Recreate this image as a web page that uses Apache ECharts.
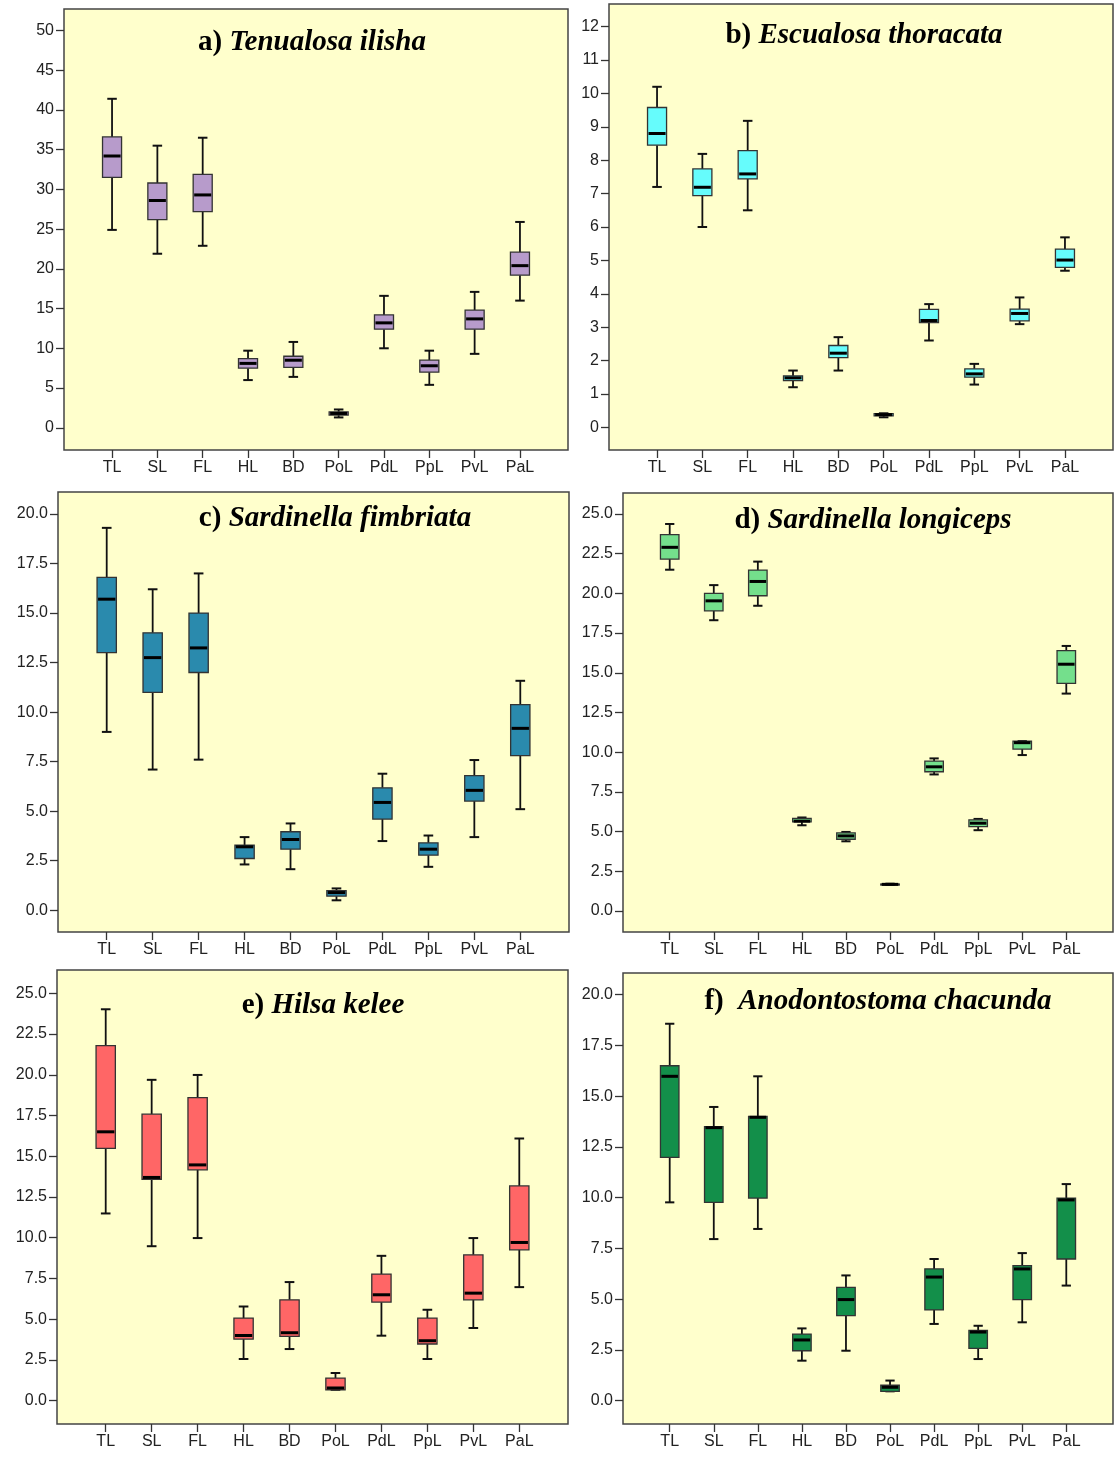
<!DOCTYPE html>
<html>
<head>
<meta charset="utf-8">
<script src="https://cdn.jsdelivr.net/npm/echarts@6/dist/echarts.min.js"></script>
<style>
  html, body { margin: 0; padding: 0; background: #fff; }
  #main { width: 1117px; height: 1457px; }
</style>
</head>
<body>
<div id="main"></div>
<script>
// categories on the x axis of every panel
const traits = ['TL', 'SL', 'FL', 'HL', 'BD', 'PoL', 'PdL', 'PpL', 'PvL', 'PaL'];

// box values per trait: [min, Q1, median, Q3, max]
const ilisha = [
    [24.9, 31.5, 34.2, 36.6, 41.4],
    [21.9, 26.2, 28.6, 30.8, 35.5],
    [22.9, 27.2, 29.3, 31.9, 36.5],
    [6.0, 7.5, 8.1, 8.7, 9.7],
    [6.4, 7.6, 8.5, 9.0, 10.8],
    [1.3, 1.6, 1.8, 2.0, 2.3],
    [10.0, 12.4, 13.2, 14.2, 16.6],
    [5.4, 7.0, 7.8, 8.5, 9.7],
    [9.3, 12.4, 13.7, 14.8, 17.1],
    [16.0, 19.2, 20.4, 22.1, 25.9]
];
const thoracata = [
    [7.2, 8.45, 8.8, 9.58, 10.2],
    [6.0, 6.94, 7.19, 7.74, 8.19],
    [6.5, 7.44, 7.59, 8.29, 9.18],
    [1.2, 1.40, 1.48, 1.54, 1.7],
    [1.7, 2.09, 2.22, 2.45, 2.7],
    [0.3, 0.34, 0.38, 0.41, 0.42],
    [2.6, 3.14, 3.2, 3.53, 3.69],
    [1.28, 1.5, 1.6, 1.75, 1.9],
    [3.09, 3.19, 3.41, 3.54, 3.89],
    [4.69, 4.79, 5.01, 5.34, 5.69]
];
const fimbriata = [
    [9.0, 13.0, 15.7, 16.8, 19.3],
    [7.1, 11.0, 12.75, 14.0, 16.2],
    [7.6, 12.0, 13.24, 15.0, 17.0],
    [2.31, 2.61, 3.2, 3.29, 3.69],
    [2.07, 3.08, 3.57, 3.96, 4.38],
    [0.5, 0.71, 0.89, 0.99, 1.1],
    [3.49, 4.6, 5.44, 6.18, 6.89],
    [2.19, 2.78, 3.08, 3.4, 3.77],
    [3.69, 5.51, 6.05, 6.79, 7.58],
    [5.1, 7.8, 9.18, 10.38, 11.58]
];
const longiceps = [
    [21.49, 22.16, 22.9, 23.7, 24.37],
    [18.31, 18.9, 19.53, 20.0, 20.52],
    [19.22, 19.85, 20.75, 21.47, 22.0],
    [5.4, 5.61, 5.66, 5.84, 5.89],
    [4.39, 4.52, 4.73, 4.92, 4.98],
    [1.64, 1.66, 1.68, 1.70, 1.72],
    [8.6, 8.77, 9.08, 9.44, 9.61],
    [5.09, 5.32, 5.53, 5.74, 5.8],
    [9.82, 10.2, 10.6, 10.7, 10.7],
    [13.69, 14.34, 15.54, 16.4, 16.69]
];
const kelee = [
    [11.49, 15.49, 16.5, 21.79, 24.02],
    [9.48, 13.59, 13.7, 17.58, 19.69],
    [9.98, 14.17, 14.47, 18.6, 19.99],
    [2.56, 3.78, 4.0, 5.07, 5.78],
    [3.17, 3.95, 4.17, 6.19, 7.28],
    [0.67, 0.67, 0.78, 1.39, 1.7],
    [3.99, 6.05, 6.5, 7.77, 8.89],
    [2.56, 3.48, 3.68, 5.07, 5.58],
    [4.46, 6.19, 6.6, 8.95, 9.98],
    [6.97, 9.26, 9.71, 13.18, 16.09]
];
const chacunda = [
    [9.77, 11.99, 15.98, 16.5, 18.57],
    [7.96, 9.77, 13.45, 13.5, 14.47],
    [8.46, 9.98, 13.96, 14.0, 15.98],
    [1.97, 2.46, 2.99, 3.28, 3.56],
    [2.46, 4.19, 4.98, 5.58, 6.17],
    [0.46, 0.46, 0.66, 0.76, 0.99],
    [3.78, 4.47, 6.09, 6.49, 6.98],
    [2.05, 2.58, 3.38, 3.46, 3.69],
    [3.86, 4.98, 6.49, 6.65, 7.27],
    [5.67, 6.98, 9.89, 9.98, 10.67]
];

// y tick labels
const ticksA = [0, 5, 10, 15, 20, 25, 30, 35, 40, 45, 50];
const ticksB = [0, 1, 2, 3, 4, 5, 6, 7, 8, 9, 10, 11, 12];
const ticksC = [0, 2.5, 5, 7.5, 10, 12.5, 15, 17.5, 20];
const ticksD = [0, 2.5, 5, 7.5, 10, 12.5, 15, 17.5, 20, 22.5, 25];
const ticksE = [0, 2.5, 5, 7.5, 10, 12.5, 15, 17.5, 20, 22.5, 25];
const ticksF = [0, 2.5, 5, 7.5, 10, 12.5, 15, 17.5, 20];

// panel layout
const panels = [
    { tag: 'a) ', name: 'Tenualosa ilisha', data: ilisha, ticks: ticksA, dec: 0, color: '#b79bcb',
      rect: [64, 9, 504, 441], y: [-2.8, 52.7], title: [312, 28] },
    { tag: 'b) ', name: 'Escualosa thoracata', data: thoracata, ticks: ticksB, dec: 0, color: '#66fcfc',
      rect: [609, 4, 504, 446], y: [-0.68, 12.68], title: [864, 21] },
    { tag: 'c) ', name: 'Sardinella fimbriata', data: fimbriata, ticks: ticksC, dec: 1, color: '#2a8aad',
      rect: [58, 492, 511, 440], y: [-1.1, 21.11], title: [335, 504] },
    { tag: 'd) ', name: 'Sardinella longiceps', data: longiceps, ticks: ticksD, dec: 1, color: '#74df8c',
      rect: [623, 493, 490, 439], y: [-1.32, 26.32], title: [873, 506] },
    { tag: 'e) ', name: 'Hilsa kelee', data: kelee, ticks: ticksE, dec: 1, color: '#ff6666',
      rect: [57, 970, 511, 454], y: [-1.43, 26.43], title: [323, 991] },
    { tag: 'f)  ', name: 'Anodontostoma chacunda', data: chacunda, ticks: ticksF, dec: 1, color: '#138f4a',
      rect: [623, 973, 490, 451], y: [-1.15, 21.07], title: [878, 987] }
];

const xTicks = traits.map((t, i) => i);

function makeBox(fill) {
    return function (params, api) {
        const x = api.value(0);
        const unit = api.size([1, 0])[0];
        const hw = unit * 0.21;
        const cw = unit * 0.105;
        const pMin = api.coord([x, api.value(1)]);
        const cx = pMin[0];
        const yMin = pMin[1];
        const yQ1 = api.coord([x, api.value(2)])[1];
        const yMed = api.coord([x, api.value(3)])[1];
        const yQ3 = api.coord([x, api.value(4)])[1];
        const yMax = api.coord([x, api.value(5)])[1];
        const wStyle = { stroke: '#111', lineWidth: 1.8 };
        const cStyle = { stroke: '#111', lineWidth: 2 };
        return {
            type: 'group',
            children: [
                { type: 'line', shape: { x1: cx, y1: yQ1, x2: cx, y2: yMin }, style: wStyle },
                { type: 'line', shape: { x1: cx, y1: yQ3, x2: cx, y2: yMax }, style: wStyle },
                { type: 'line', shape: { x1: cx - cw, y1: yMin, x2: cx + cw, y2: yMin }, style: cStyle },
                { type: 'line', shape: { x1: cx - cw, y1: yMax, x2: cx + cw, y2: yMax }, style: cStyle },
                { type: 'rect', shape: { x: cx - hw, y: yQ3, width: hw * 2, height: Math.max(yQ1 - yQ3, 1) },
                  style: { fill: fill, stroke: '#333', lineWidth: 1.3 } },
                { type: 'line', shape: { x1: cx - hw + 1, y1: yMed, x2: cx + hw - 1, y2: yMed },
                  style: { stroke: '#000', lineWidth: 3 } }
            ]
        };
    };
}

const chart = echarts.init(document.getElementById('main'));

const option = {
    animation: false,
    backgroundColor: '#ffffff',
    title: panels.map(p => ({
        text: '{n|' + p.tag + '}{i|' + p.name + '}',
        left: p.title[0],
        top: p.title[1],
        textAlign: 'center',
        padding: 0,
        textStyle: {
            rich: {
                n: { fontFamily: 'Liberation Serif', fontWeight: 'bold', fontSize: 29, color: '#000' },
                i: { fontFamily: 'Liberation Serif', fontWeight: 'bold', fontStyle: 'italic', fontSize: 29, color: '#000' }
            }
        }
    })),
    grid: panels.map(p => ({
        left: p.rect[0],
        top: p.rect[1],
        width: p.rect[2],
        height: p.rect[3],
        show: true,
        backgroundColor: '#ffffcc',
        borderColor: '#444',
        borderWidth: 1.5
    })),
    xAxis: panels.map((p, k) => ({
        type: 'value',
        gridIndex: k,
        position: 'bottom',
        min: -1.06,
        max: 10.06,
        axisLine: { show: false, onZero: false },
        splitLine: { show: false },
        axisTick: { show: true, length: 8, customValues: xTicks, lineStyle: { color: '#333', width: 1.3 } },
        axisLabel: {
            customValues: xTicks,
            margin: 10,
            fontFamily: 'Liberation Sans',
            fontSize: 16,
            color: '#222',
            formatter: v => traits[Math.round(v)]
        }
    })),
    yAxis: panels.map((p, k) => ({
        type: 'value',
        gridIndex: k,
        position: 'left',
        min: p.y[0],
        max: p.y[1],
        axisLine: { show: false, onZero: false },
        splitLine: { show: false },
        axisTick: { show: true, length: 8, customValues: p.ticks, lineStyle: { color: '#333', width: 1.3 } },
        axisLabel: {
            customValues: p.ticks,
            margin: 10,
            fontFamily: 'Liberation Sans',
            fontSize: 16,
            color: '#222',
            formatter: v => v.toFixed(p.dec)
        }
    })),
    series: panels.map((p, k) => ({
        type: 'custom',
        xAxisIndex: k,
        yAxisIndex: k,
        renderItem: makeBox(p.color),
        encode: { x: 0, y: [1, 2, 3, 4, 5] },
        data: p.data.map((row, i) => [i].concat(row))
    }))
};

chart.setOption(option);
</script>
</body>
</html>
